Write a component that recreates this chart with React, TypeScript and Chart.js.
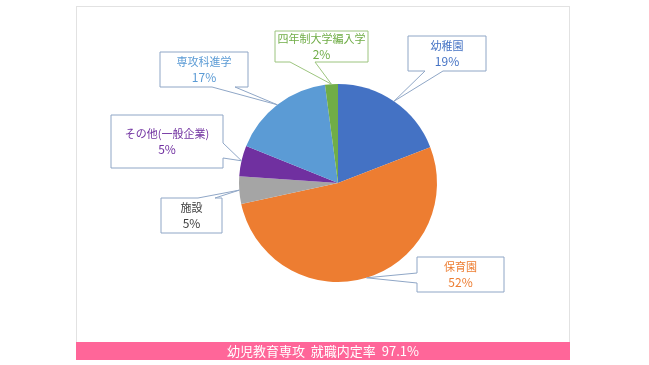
import React, { useEffect, useRef } from 'react';
import { Chart, registerables } from 'chart.js';

Chart.register(...registerables);

// ---- data ----
const categories = ['幼稚園', '保育園', '施設', 'その他(一般企業)', '専攻科進学', '四年制大学編入学'];
const shares = [19.1, 52.5, 4.5, 5.0, 16.8, 2.1];
const percentLabels = ['19%', '52%', '5%', '5%', '17%', '2%'];
const sliceColors = ['#4472C4', '#ED7D31', '#A5A5A5', '#7030A0', '#5B9BD5', '#70AD47'];
const labelColors = ['#4472C4', '#ED7D31', '#404040', '#7030A0', '#5B9BD5', '#70AD47'];
const summaryText = '幼児教育専攻  就職内定率  97.1%';

// ---- callout layout (relative to pie centre) ----
type Side = 'top' | 'bottom' | 'left' | 'right';
const calloutLayout: { box: [number, number, number, number]; side: Side; base: [number, number]; border: string }[] = [
  { box: [70, -147, 148, -112], side: 'bottom', base: [87, 105], border: '#8FA6C6' },
  { box: [79, 74, 166, 109], side: 'left', base: [90, 100], border: '#8FA6C6' },
  { box: [-177, 15, -116, 50], side: 'top', base: [-140, -123], border: '#8FA6C6' },
  { box: [-227, -68, -115, -15], side: 'right', base: [-40, -25], border: '#8FA6C6' },
  { box: [-178, -131, -90, -96], side: 'bottom', base: [-126, -103], border: '#8FA6C6' },
  { box: [-63, -152, 30, -121], side: 'bottom', base: [-48, -23], border: '#9CC47E' },
];

const FONT = '"Noto Sans CJK JP", "Noto Sans", sans-serif';

const calloutPlugin = {
  id: 'callouts',
  afterDatasetsDraw(chart: any) {
    const meta = chart.getDatasetMeta(0);
    const ctx = chart.ctx as CanvasRenderingContext2D;
    meta.data.forEach((arc: any, i: number) => {
      const lay = calloutLayout[i];
      if (!lay) return;
      const { x: cx, y: cy, startAngle, endAngle, outerRadius } = arc.getProps(
        ['x', 'y', 'startAngle', 'endAngle', 'outerRadius'],
        true
      );
      const mid = (startAngle + endAngle) / 2;
      const tx = cx + Math.cos(mid) * outerRadius;
      const ty = cy + Math.sin(mid) * outerRadius;
      const x0 = cx + lay.box[0];
      const y0 = cy + lay.box[1];
      const x1 = cx + lay.box[2];
      const y1 = cy + lay.box[3];
      ctx.save();
      ctx.beginPath();
      if (lay.side === 'bottom') {
        const b0 = cx + lay.base[0];
        const b1 = cx + lay.base[1];
        ctx.moveTo(x0, y0);
        ctx.lineTo(x1, y0);
        ctx.lineTo(x1, y1);
        ctx.lineTo(b1, y1);
        ctx.lineTo(tx, ty);
        ctx.lineTo(b0, y1);
        ctx.lineTo(x0, y1);
      } else if (lay.side === 'top') {
        const b0 = cx + lay.base[0];
        const b1 = cx + lay.base[1];
        ctx.moveTo(x0, y0);
        ctx.lineTo(b0, y0);
        ctx.lineTo(tx, ty);
        ctx.lineTo(b1, y0);
        ctx.lineTo(x1, y0);
        ctx.lineTo(x1, y1);
        ctx.lineTo(x0, y1);
      } else if (lay.side === 'right') {
        const b0 = cy + lay.base[0];
        const b1 = cy + lay.base[1];
        ctx.moveTo(x0, y0);
        ctx.lineTo(x1, y0);
        ctx.lineTo(x1, b0);
        ctx.lineTo(tx, ty);
        ctx.lineTo(x1, b1);
        ctx.lineTo(x1, y1);
        ctx.lineTo(x0, y1);
      } else {
        const b0 = cy + lay.base[0];
        const b1 = cy + lay.base[1];
        ctx.moveTo(x0, y0);
        ctx.lineTo(x1, y0);
        ctx.lineTo(x1, y1);
        ctx.lineTo(x0, y1);
        ctx.lineTo(x0, b1);
        ctx.lineTo(tx, ty);
        ctx.lineTo(x0, b0);
      }
      ctx.closePath();
      ctx.fillStyle = '#ffffff';
      ctx.fill();
      ctx.lineWidth = 1;
      ctx.strokeStyle = lay.border;
      ctx.stroke();

      ctx.fillStyle = labelColors[i];
      ctx.textAlign = 'center';
      ctx.textBaseline = 'middle';
      const mx = (x0 + x1) / 2;
      const my = (y0 + y1) / 2;
      ctx.font = `11px ${FONT}`;
      ctx.fillText(categories[i], mx, my - 7.5);
      ctx.font = `12px ${FONT}`;
      ctx.fillText(percentLabels[i], mx, my + 7.5);
      ctx.restore();
    });
  },
};

function PieChart() {
  const ref = useRef<HTMLCanvasElement | null>(null);
  useEffect(() => {
    if (!ref.current) return;
    const chart = new Chart(ref.current, {
      type: 'pie',
      data: {
        labels: categories,
        datasets: [
          {
            data: shares,
            backgroundColor: sliceColors,
            borderWidth: 0,
            hoverOffset: 0,
          },
        ],
      },
      options: {
        animation: false,
        responsive: true,
        maintainAspectRatio: false,
        layout: { padding: { left: 100, right: 68, top: 78, bottom: 60 } },
        plugins: {
          legend: { display: false },
          tooltip: { enabled: false },
        },
        events: [],
      },
      plugins: [calloutPlugin],
    });
    return () => chart.destroy();
  }, []);
  return <canvas ref={ref} />;
}

export default function App() {
  return (
    <div style={{ position: 'absolute', left: 0, top: 0, width: 649, height: 365, background: '#ffffff' }}>
      <div
        style={{
          position: 'absolute',
          left: 76,
          top: 6,
          width: 494,
          height: 337,
          boxSizing: 'border-box',
          border: '1px solid #e2e2e2',
        }}
      />
      <div style={{ position: 'absolute', left: 76, top: 6, width: 492, height: 336 }}>
        <PieChart />
      </div>
      <div
        style={{
          position: 'absolute',
          left: 76,
          top: 342,
          width: 494,
          height: 18,
          background: '#FF6699',
          color: '#ffffff',
          fontFamily: FONT,
          fontSize: 13,
          lineHeight: '18px',
          textAlign: 'center',
          whiteSpace: 'pre',
        }}
      >
        {summaryText}
      </div>
    </div>
  );
}
